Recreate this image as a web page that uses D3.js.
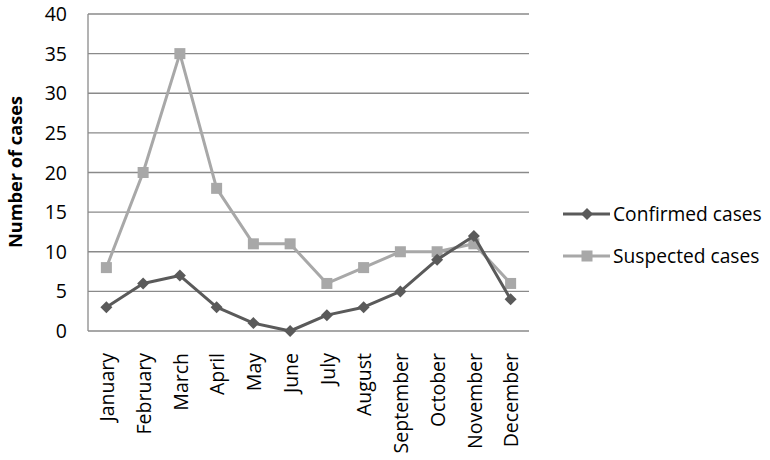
<!DOCTYPE html>
<html><head><meta charset="utf-8">
<script src="https://cdn.jsdelivr.net/npm/d3@7"></script>
<style>body{margin:0;background:#fff}text{font-family:"Open Sans",sans-serif}</style>
</head><body><svg id="c" width="770" height="460"></svg>
<script>
const months = ["January","February","March","April","May","June","July","August","September","October","November","December"];
const confirmed = [3,6,7,3,1,0,2,3,5,9,12,4];
const suspected = [8,20,35,18,11,11,6,8,10,10,11,6];
const yTicks = [0,5,10,15,20,25,30,35,40];
const seriesNames = ["Confirmed cases","Suspected cases"];
const colors = ["#5a5a5a","#a8a8a8"];

const svg = d3.select("#c");
const L=88, R=529, T=14, B=331;
const x = d3.scaleBand().domain(months).range([L,R]);
const y = d3.scaleLinear().domain([0,40]).range([B,T]);

svg.append("g").selectAll("line").data(yTicks).join("line")
  .attr("x1",L).attr("x2",R).attr("y1",d=>y(d)).attr("y2",d=>y(d))
  .attr("stroke","#8a8a8a").attr("stroke-width",1.3);
svg.append("line").attr("x1",L).attr("x2",L).attr("y1",T).attr("y2",B).attr("stroke","#8a8a8a").attr("stroke-width",1.3);

svg.append("g").selectAll("text").data(yTicks).join("text")
  .attr("x",67).attr("y",d=>y(d)).attr("dy","0.36em").attr("text-anchor","end")
  .attr("font-size",19.5).attr("fill","#000").text(d=>d);

svg.append("g").selectAll("text").data(months).join("text")
  .attr("transform",d=>`translate(${x(d)+x.bandwidth()/2+1},${B+22}) rotate(-90)`)
  .attr("text-anchor","end").attr("dy","0.35em").attr("font-size",19.5).attr("fill","#000").text(d=>d);

svg.append("text").attr("transform",`translate(16,172) rotate(-90)`).attr("text-anchor","middle")
  .attr("dy","0.35em").attr("font-size",18.2).attr("font-weight","bold").text("Number of cases");

const cx = d => x(d)+x.bandwidth()/2;
const line = d3.line().x((d,i)=>cx(months[i])).y(d=>y(d));
const data = [confirmed, suspected];

function marker(g, k, px, py){
  if(k===0){
    g.append("path").attr("d",`M${px},${py-6}L${px+6},${py}L${px},${py+6}L${px-6},${py}Z`).attr("fill",colors[0]);
  } else {
    g.append("rect").attr("x",px-5.5).attr("y",py-5.5).attr("width",11).attr("height",11).attr("fill",colors[1]);
  }
}

[1,0].forEach(k=>{
  const g = svg.append("g");
  g.append("path").datum(data[k]).attr("d",line).attr("fill","none").attr("stroke",colors[k]).attr("stroke-width",3).attr("stroke-linejoin","round");
  data[k].forEach((v,i)=>marker(g,k,cx(months[i]),y(v)));
});

const leg = svg.append("g");
seriesNames.forEach((n,k)=>{
  const ly = 214 + k*42;
  leg.append("line").attr("x1",563).attr("x2",610).attr("y1",ly).attr("y2",ly).attr("stroke",colors[k]).attr("stroke-width",3);
  marker(leg,k,587,ly);
  leg.append("text").attr("x",613).attr("y",ly).attr("dy","0.35em").attr("font-size",19.2).text(n);
});
</script></body></html>
